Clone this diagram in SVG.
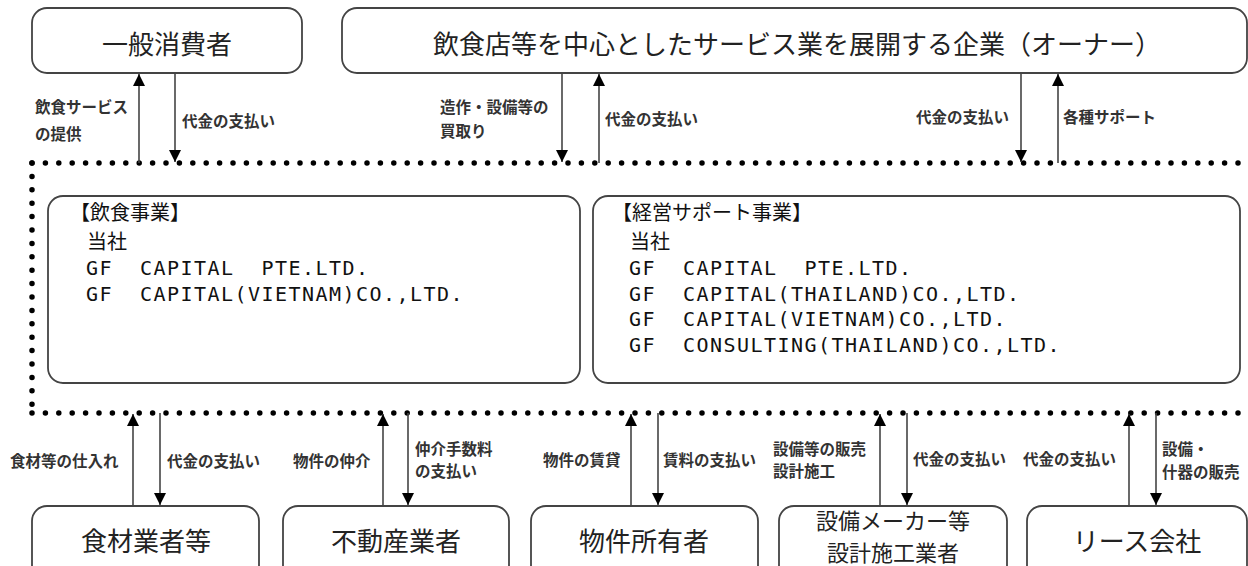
<svg xmlns="http://www.w3.org/2000/svg" width="1248" height="566" viewBox="0 0 1248 566">
<defs>
<style>
.box{fill:#fff;stroke:#444;stroke-width:1.8}
.big{font-family:"Noto Sans CJK JP","Liberation Sans",sans-serif;font-size:26px;fill:#222;text-anchor:middle}
.big2{font-family:"Noto Sans CJK JP","Liberation Sans",sans-serif;font-size:22px;fill:#222;text-anchor:middle}
.lbl{font-family:"Noto Sans CJK JP","Liberation Sans",sans-serif;font-size:15.5px;font-weight:bold;fill:#333}
.innj{font-family:"Noto Sans CJK JP","Liberation Sans",sans-serif;font-size:20px;fill:#111}
.lat{font-family:"DejaVu Sans Mono","Liberation Mono",monospace;font-size:20px;letter-spacing:1.46px;fill:#111;white-space:pre}
.dot{fill:none;stroke:#000;stroke-width:5.5;stroke-linecap:round;stroke-dasharray:0 13.4}
.arr{stroke:#444;stroke-width:1.6;fill:none;marker-end:url(#ah)}
</style>
<marker id="ah" viewBox="0 0 12 12" refX="12" refY="6" markerWidth="12" markerHeight="12" markerUnits="userSpaceOnUse" orient="auto">
<path d="M0,0 L12,6 L0,12 Z" fill="#000"/>
</marker>
</defs>
<rect width="1248" height="566" fill="#fff"/>

<g id="group-border">
<path class="dot" d="M32,163 L1248,163"/>
<path class="dot" d="M32,163 L32,413"/>
<path class="dot" d="M32,413 L1248,413"/>
</g>

<g id="node-consumer">
<rect class="box" x="32" y="8" width="270" height="65" rx="15"/>
<text class="big" x="167" y="54">一般消費者</text>
</g>
<g id="node-owner">
<rect class="box" x="342" y="8" width="905" height="65" rx="15"/>
<text class="big" x="797" y="54">飲食店等を中心としたサービス業を展開する企業（オーナー）</text>
</g>

<g id="node-food">
<rect class="box" x="48" y="196" width="532" height="187" rx="15"/>
<text class="innj" x="70" y="220">【飲食事業】</text>
<text class="innj" x="87" y="249">当社</text>
<text class="lat" x="86" y="275" xml:space="preserve">GF  CAPITAL  PTE.LTD.</text>
<text class="lat" x="86" y="300.5" xml:space="preserve">GF  CAPITAL(VIETNAM)CO.,LTD.</text>
</g>
<g id="node-support">
<rect class="box" x="593" y="196" width="647" height="187" rx="15"/>
<text class="innj" x="612" y="220">【経営サポート事業】</text>
<text class="innj" x="630" y="249">当社</text>
<text class="lat" x="629" y="275" xml:space="preserve">GF  CAPITAL  PTE.LTD.</text>
<text class="lat" x="629" y="300.5" xml:space="preserve">GF  CAPITAL(THAILAND)CO.,LTD.</text>
<text class="lat" x="629" y="326" xml:space="preserve">GF  CAPITAL(VIETNAM)CO.,LTD.</text>
<text class="lat" x="629" y="351.5" xml:space="preserve">GF  CONSULTING(THAILAND)CO.,LTD.</text>
</g>

<g id="node-supplier">
<rect class="box" x="32" y="506" width="227" height="80" rx="15"/>
<text class="big" x="146" y="551">食材業者等</text>
</g>
<g id="node-realestate">
<rect class="box" x="283" y="506" width="226" height="80" rx="15"/>
<text class="big" x="396" y="551">不動産業者</text>
</g>
<g id="node-landlord">
<rect class="box" x="531" y="506" width="227" height="80" rx="15"/>
<text class="big" x="644" y="551">物件所有者</text>
</g>
<g id="node-equipment">
<rect class="box" x="779" y="506" width="228" height="80" rx="15"/>
<text class="big2" x="893" y="529">設備メーカー等</text>
<text class="big2" x="893" y="561">設計施工業者</text>
</g>
<g id="node-lease">
<rect class="box" x="1027" y="506" width="220" height="80" rx="15"/>
<text class="big" x="1137" y="551">リース会社</text>
</g>

<g id="connectors">
<line class="arr" x1="139" y1="163" x2="139" y2="74"/>
<line class="arr" x1="175" y1="73" x2="175" y2="162"/>
<line class="arr" x1="562" y1="73" x2="562" y2="162"/>
<line class="arr" x1="599" y1="163" x2="599" y2="74"/>
<line class="arr" x1="1021" y1="73" x2="1021" y2="162"/>
<line class="arr" x1="1058" y1="163" x2="1058" y2="74"/>

<line class="arr" x1="133" y1="506" x2="133" y2="414"/>
<line class="arr" x1="160" y1="413" x2="160" y2="505"/>
<line class="arr" x1="383" y1="506" x2="383" y2="414"/>
<line class="arr" x1="408" y1="413" x2="408" y2="505"/>
<line class="arr" x1="631" y1="506" x2="631" y2="414"/>
<line class="arr" x1="658" y1="413" x2="658" y2="505"/>
<line class="arr" x1="880" y1="506" x2="880" y2="414"/>
<line class="arr" x1="907" y1="413" x2="907" y2="505"/>
<line class="arr" x1="1129" y1="506" x2="1129" y2="414"/>
<line class="arr" x1="1156" y1="413" x2="1156" y2="505"/>
</g>

<g id="labels">
<text class="lbl"><tspan x="35" y="113">飲食サービス</tspan><tspan x="35" y="140">の提供</tspan></text>
<text class="lbl" x="182" y="127">代金の支払い</text>
<text class="lbl"><tspan x="440" y="113">造作・設備等の</tspan><tspan x="440" y="137">買取り</tspan></text>
<text class="lbl" x="605" y="125">代金の支払い</text>
<text class="lbl" x="916" y="123">代金の支払い</text>
<text class="lbl" x="1063" y="123">各種サポート</text>

<text class="lbl" x="10" y="467">食材等の仕入れ</text>
<text class="lbl" x="167" y="467">代金の支払い</text>
<text class="lbl" x="293" y="467">物件の仲介</text>
<text class="lbl"><tspan x="415" y="455">仲介手数料</tspan><tspan x="415" y="477">の支払い</tspan></text>
<text class="lbl" x="543" y="466">物件の賃貸</text>
<text class="lbl" x="663" y="466">賃料の支払い</text>
<text class="lbl"><tspan x="773" y="455">設備等の販売</tspan><tspan x="773" y="477">設計施工</tspan></text>
<text class="lbl" x="913" y="465">代金の支払い</text>
<text class="lbl" x="1023" y="465">代金の支払い</text>
<text class="lbl"><tspan x="1162" y="455">設備・</tspan><tspan x="1162" y="478">什器の販売</tspan></text>
</g>
</svg>
